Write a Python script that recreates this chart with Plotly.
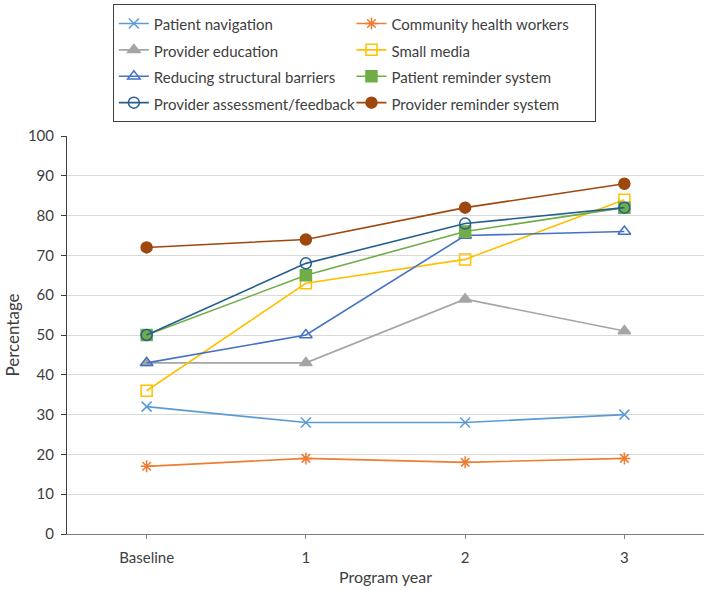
import plotly.graph_objects as go

categories = ["Baseline", "1", "2", "3"]

patient_navigation = [32, 28, 28, 30]
community_health_workers = [17, 19, 18, 19]
provider_education = [43, 43, 59, 51]
small_media = [36, 63, 69, 84]
reducing_structural_barriers = [43, 50, 75, 76]
patient_reminder_system = [50, 65, 76, 82]
provider_assessment_feedback = [50, 68, 78, 82]
provider_reminder_system = [72, 74, 82, 88]

y_ticks = [0, 10, 20, 30, 40, 50, 60, 70, 80, 90, 100]

series = [
    ("Patient navigation", patient_navigation, "#5B9BD5", "x-thin-open", 10),
    ("Community health workers", community_health_workers, "#ED7D31", "asterisk-open", 10),
    ("Provider education", provider_education, "#A5A5A5", "triangle-up", 11),
    ("Small media", small_media, "#FFC000", "square-open", 11),
    ("Reducing structural barriers", reducing_structural_barriers, "#4472C4", "triangle-up-open", 11),
    ("Patient reminder system", patient_reminder_system, "#70AD47", "square", 11),
    ("Provider assessment/feedback", provider_assessment_feedback, "#255E91", "circle-open", 11),
    ("Provider reminder system", provider_reminder_system, "#9E480E", "circle", 11),
]

fig = go.Figure()
for name, vals, color, sym, size in series:
    fig.add_trace(go.Scatter(
        x=categories, y=vals, name=f'<span style="font-size:15px">{name}</span>',
        mode="lines+markers",
        line=dict(color=color, width=1.6),
        marker=dict(symbol=sym, size=size, color=color,
                    line=dict(color=color, width=1.5)),
    ))

font_family = "Lato, Open Sans, sans-serif"

fig.update_layout(
    width=704, height=590,
    margin=dict(l=67, r=0, t=136, b=56, autoexpand=False),
    paper_bgcolor="white", plot_bgcolor="white",
    font=dict(family=font_family, size=15, color="#404040"),
    showlegend=True,
    legend=dict(
        orientation="h",
        x=0.072, xanchor="left",
        y=1.331, yanchor="top",
        entrywidthmode="fraction", entrywidth=0.373,
        bordercolor="#404040", borderwidth=1,
        font=dict(family=font_family, size=18, color="#404040"),
        traceorder="normal",
        itemwidth=30,
    ),
    xaxis=dict(
        type="category", range=[-0.5, 3.5],
        showline=True, linecolor="#808080", linewidth=1,
        ticks="outside", ticklen=4, tickcolor="#808080",
        showgrid=False, automargin=False,
        ticklabelstandoff=6,
        title=dict(text="Program year", font=dict(size=16, color="#404040"), standoff=6),
        tickfont=dict(size=15, color="#404040"),
    ),
    yaxis=dict(
        range=[0, 100], tickvals=y_ticks,
        showline=True, linecolor="#404040", linewidth=1,
        ticks="outside", ticklen=5, tickcolor="#404040",
        showgrid=True, gridcolor="#D9D9D9", gridwidth=1,
        zeroline=False, automargin=False,
        ticklabelstandoff=4,
        title=dict(text="Percentage", font=dict(size=17, color="#404040"), standoff=3),
        tickfont=dict(size=15, color="#404040"),
    ),
)

fig.write_html(
    "out.html",
    config={"displayModeBar": False},
    post_script="document.body.style.margin='0';document.body.style.padding='0';",
)
